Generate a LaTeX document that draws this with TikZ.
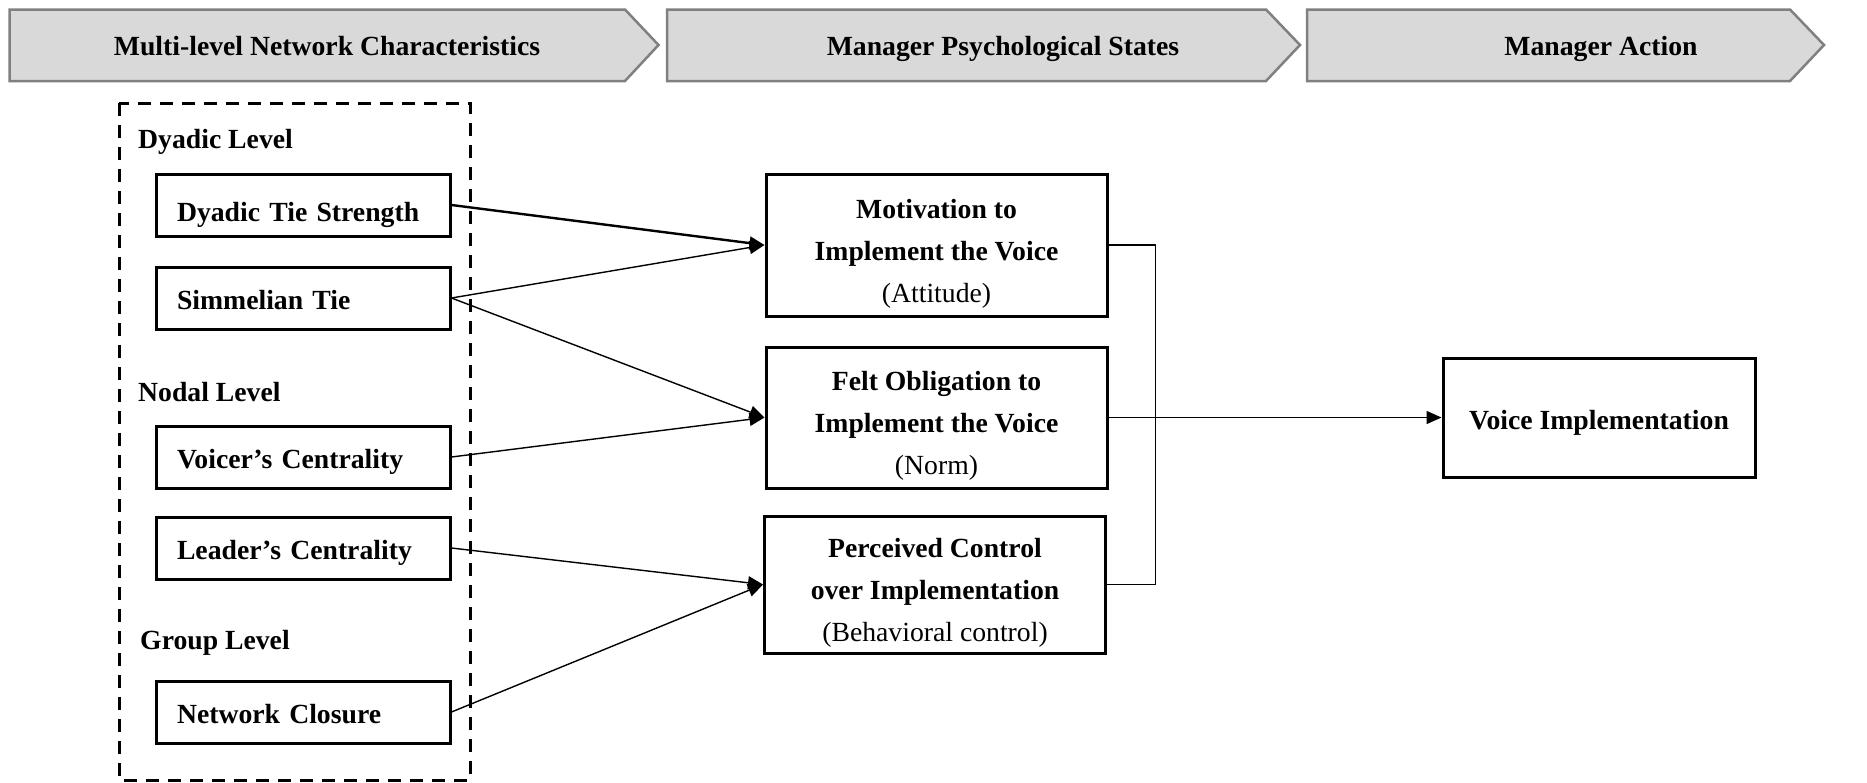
\documentclass[tikz,border=0pt]{standalone}
\usepackage{fontspec}
\setmainfont{Liberation Serif}
\usetikzlibrary{arrows.meta}
% strut that lowers a centred multi-line node text
\newcommand{\toppad}{\rule{0pt}{36pt}}
\begin{document}
\begin{tikzpicture}[x=1pt,y=-1pt,
  txt/.style={font=\bfseries\fontsize{27.7}{42}\selectfont},
  banner/.style={draw=black!50,fill=black!15,line width=2.5pt,line join=miter},
  bannertext/.style={txt,text height=19pt,text depth=0pt},
  lbox/.style={txt,draw,line width=3pt,text width=252pt,align=left,inner xsep=21pt,inner ysep=0pt,
    minimum height=62pt,text height=23.4pt,text depth=0pt},
  mbox/.style={txt,draw,line width=3pt,align=center,inner sep=0pt,minimum width=341pt},
  vbox/.style={txt,draw,line width=3pt,align=center,inner sep=0pt,minimum width=312pt,minimum height=119pt,
    text height=23.4pt,text depth=0pt},
  levellabel/.style={txt,anchor=west,inner sep=0pt},
  conn/.style={line width=1.4pt,-{Triangle[length=15pt,width=13pt]}},
  plain/.style={line width=1.4pt}]
\useasboundingbox (0,0) rectangle (1867,782);

% stage banners
\draw[banner] (9.5,9.5) -- (625,9.5) -- (658.5,45) -- (625,81) -- (9.5,81) -- cycle;
\draw[banner] (667,9.5) -- (1266,9.5) -- (1300,45) -- (1266,81) -- (667,81) -- cycle;
\draw[banner] (1307,9.5) -- (1790,9.5) -- (1824,45) -- (1790,81) -- (1307,81) -- cycle;
\node[bannertext] (b1) at (327,46) {Multi-level Network Characteristics};
\node[bannertext] (b2) at (1003,46) {Manager Psychological States};
\node[bannertext] (b3) at (1601,46) {Manager Action};

% network characteristics group
\draw[line width=3pt,dash pattern=on 13pt off 9pt] (119,103) rectangle (470,780);
\node[levellabel] (lv1) at (138,142) {Dyadic Level};
\node[levellabel] (lv2) at (138,392) {Nodal Level};
\node[levellabel] (lv3) at (140,643) {Group Level};

\node[lbox,text height=32pt] (dts) at (303,205) {Dyadic Tie Strength};
\node[lbox] (sim) at (303,298) {Simmelian Tie};
\node[lbox] (voc) at (303,457) {Voicer’s Centrality};
\node[lbox] (lea) at (303,548) {Leader’s Centrality};
\node[lbox] (clo) at (303,712) {Network Closure};

% psychological states
\node[mbox,minimum height=142pt] (mot) at (936.5,245) {\toppad Motivation to\\Implement the Voice\\\mdseries(Attitude)};
\node[mbox,minimum height=141pt] (obl) at (936.5,417.5) {\toppad Felt Obligation to\\Implement the Voice\\\mdseries(Norm)};
\node[mbox,minimum height=137pt] (ctl) at (935,584.5) {\toppad Perceived Control\\over Implementation\\\mdseries(Behavioral control)};

% outcome
\node[vbox] (imp) at (1599,417.5) {Voice Implementation};

% connectors
\draw[conn,line width=2.4pt] (dts.east) -- (mot.west);
\draw[conn] (sim.east) -- (mot.west);
\draw[conn] (sim.east) -- (obl.west);
\draw[conn] (voc.east) -- (obl.west);
\draw[conn] (lea.east) -- (ctl.west);
\draw[conn] (clo.east) -- (ctl.west);
\draw[plain] (mot.east) -- ++(47,0) |- (ctl.east);
\draw[conn] (obl.east) -- (imp.west);
\end{tikzpicture}
\end{document}
